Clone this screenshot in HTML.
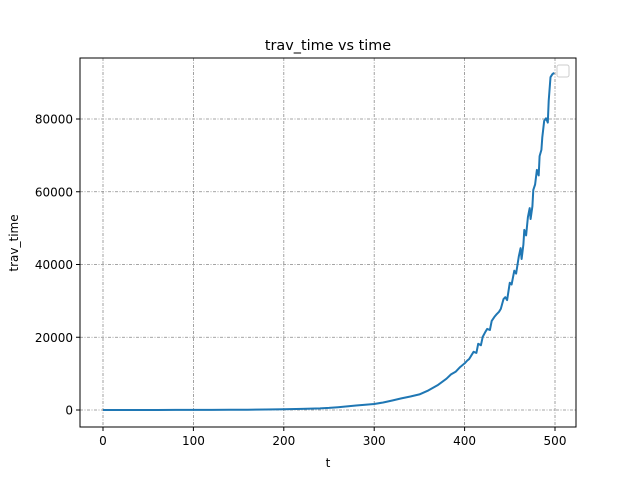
<!DOCTYPE html>
<html><head><meta charset="utf-8"><style>
body{margin:0;background:#fff;font-family:"Liberation Sans","DejaVu Sans",sans-serif;}
svg text{font-family:"DejaVu Sans","Liberation Sans",sans-serif;}
</style></head><body>
<svg id="chart" width="640" height="480" xmlns="http://www.w3.org/2000/svg">
<rect width="640" height="480" fill="#fff"/>
<g id="grid"></g>
<g id="ticks"></g>
<path id="line" fill="none" stroke="#1f77b4" stroke-width="2" stroke-linejoin="round"/>
<rect x="80" y="58" width="496" height="369" fill="none" stroke="#000" stroke-width="1"/>
<text x="328" y="50" text-anchor="middle" font-size="14.4">trav_time vs time</text>
<text x="328" y="467" text-anchor="middle" font-size="12">t</text>
<text transform="translate(18,243) rotate(-90)" text-anchor="middle" font-size="12">trav_time</text>
<rect x="557" y="65" width="12" height="12" rx="2" fill="#fff" stroke="#ccc"/>
</svg>
<script>
const tVals=[0,20,40,60,80,100,120,140,160,180,200,220,240,250,260,270,280,290,300,310,320,330,340,350,360,370,380,385,390,395,400,403,405,408,410,413,415,418,420,423,425,428,430,433,435,438,440,443,445,447,450,452,455,457,460,462,463,465,466,468,470,472,473,475,476,478,480,482,483,485,486,488,490,492,493,495,497,499];
const yVals=[2,4,6,9,14,26,40,60,90,140,205,300,450,580,760,980,1250,1450,1650,2050,2600,3200,3700,4300,5400,6800,8600,9800,10500,11800,12800,13600,14000,15200,16000,15700,18200,17800,20100,21500,22300,22000,24500,25600,26200,27000,27800,30500,31000,30200,35000,34500,38300,37500,42200,44500,41500,45500,49500,48000,53000,55500,52500,56000,60500,62000,66000,64500,69800,71500,75000,79500,80200,79000,85000,91500,92300,92700];
const xTicks=[0,100,200,300,400,500];
const yTicks=[0,20000,40000,60000,80000];
const X=t=>103+t*(555-103)/500;
const Y=v=>410-v*291/80000;
const ns="http://www.w3.org/2000/svg";
const g=document.getElementById('grid'),tk=document.getElementById('ticks');
function mk(tag,a,p){const e=document.createElementNS(ns,tag);for(const k in a)e.setAttribute(k,a[k]);p.appendChild(e);return e;}
xTicks.forEach(t=>{const x=X(t);
const l=mk('line',{x1:x,x2:x,y1:58,y2:427,stroke:'#888','stroke-width':0.8,'stroke-dasharray':'3,1.5,1,1.5'},g);


mk('line',{x1:x,x2:x,y1:427,y2:431,stroke:'#000'},tk);
const tx=mk('text',{x:x,y:445,'text-anchor':'middle','font-size':12},tk);tx.textContent=t;

});
yTicks.forEach(v=>{const y=Y(v);
const l=mk('line',{x1:80,x2:576,y1:y,y2:y,stroke:'#888','stroke-width':0.8,'stroke-dasharray':'3,1.5,1,1.5'},g);


mk('line',{x1:76,x2:80,y1:y,y2:y,stroke:'#000'},tk);
const tx=mk('text',{x:73,y:y+4.5,'text-anchor':'end','font-size':12},tk);tx.textContent=v;

});
document.getElementById('line').setAttribute('d',tVals.map((t,i)=>(i?'L':'M')+X(t).toFixed(1)+','+Y(yVals[i]).toFixed(1)).join(''));
</script>
</body></html>
